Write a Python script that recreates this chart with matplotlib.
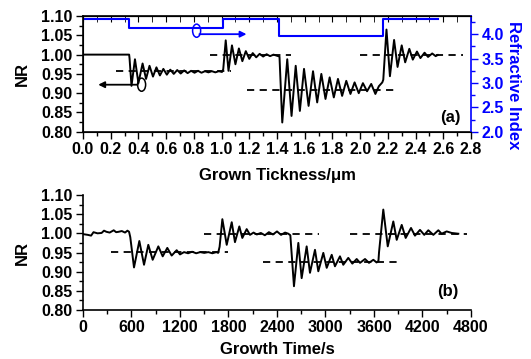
import matplotlib
matplotlib.use("Agg")
import matplotlib.pyplot as plt
from matplotlib.patches import Ellipse
from matplotlib.ticker import MultipleLocator

plt.rcParams['font.family'] = ['Liberation Sans', 'DejaVu Sans']
plt.rcParams['font.weight'] = 'bold'
plt.rcParams['axes.labelweight'] = 'bold'

# panel (a): normalised reflectance vs grown thickness (um)
thick_x = [0.0, 0.333, 0.336, 0.350, 0.375, 0.400, 0.430, 0.455, 0.480, 0.505, 0.530,
           0.555, 0.580, 0.605, 0.630, 0.655, 0.680, 0.705, 0.730, 0.755, 0.780, 0.805,
           0.830, 0.855, 0.880, 0.905, 0.930, 0.955, 0.980, 1.003,
           1.012, 1.030, 1.050, 1.075, 1.100, 1.125, 1.150, 1.175, 1.200, 1.225, 1.250,
           1.275, 1.300, 1.325, 1.350, 1.375, 1.400, 1.418,
           1.438, 1.474, 1.505, 1.535, 1.565, 1.595, 1.628, 1.660, 1.690, 1.720, 1.750,
           1.780, 1.810, 1.840, 1.870, 1.900, 1.930, 1.960, 1.990, 2.020, 2.050, 2.080,
           2.110, 2.135, 2.160,
           2.167, 2.190, 2.215, 2.245, 2.270, 2.300, 2.325, 2.355, 2.380, 2.410, 2.435,
           2.465, 2.490, 2.520, 2.545, 2.560]
thick_nr = [1.000, 1.000, 0.990, 0.919, 0.988, 0.926, 0.977, 0.937, 0.971, 0.943, 0.967,
            0.946, 0.963, 0.948, 0.961, 0.950, 0.960, 0.951, 0.959, 0.952, 0.958, 0.953,
            0.958, 0.953, 0.957, 0.954, 0.957, 0.954, 0.957, 0.955,
            0.962, 1.037, 0.958, 1.024, 0.975, 1.016, 0.983, 1.009, 0.989, 1.004, 0.993,
            1.002, 0.995, 1.001, 0.996, 1.000, 0.997, 0.995,
            0.824, 0.988, 0.841, 0.971, 0.854, 0.963, 0.867, 0.957, 0.876, 0.950, 0.885,
            0.941, 0.889, 0.937, 0.893, 0.932, 0.898, 0.928, 0.900, 0.926, 0.905, 0.924,
            0.898, 0.918, 0.928,
            0.935, 1.065, 0.944, 1.038, 0.968, 1.024, 0.980, 1.015, 0.987, 1.008, 0.991,
            1.005, 0.994, 1.003, 0.996, 0.999]

# refractive index steps (right axis)
ri_x = [0.0, 0.334, 0.334, 1.007, 1.007, 1.414, 1.414, 2.168, 2.168, 2.564]
ri_val = [4.31, 4.31, 4.125, 4.125, 4.31, 4.31, 3.97, 3.97, 4.31, 4.31]

# dashed reference levels (a): level, start, end
ref_a_level = [0.957, 0.998, 0.909, 0.998]
ref_a_start = [0.24, 0.92, 1.18, 2.00]
ref_a_end = [1.07, 1.50, 2.27, 2.74]

# panel (b): normalised reflectance vs growth time (s)
time_s = [0, 60, 100, 130, 180, 230, 260, 290, 330, 380, 410, 440, 480, 520, 550, 570,
          585, 631, 697, 755, 808, 862, 932, 986, 1043, 1097, 1159, 1200, 1250, 1300, 1350,
          1400, 1450, 1500, 1550, 1600, 1650, 1672,
          1690, 1724, 1778, 1840, 1880, 1934, 1971, 2025, 2066, 2110, 2150, 2200, 2250,
          2300, 2350, 2400, 2450, 2500, 2540, 2565,
          2610, 2664, 2705, 2767, 2808, 2870, 2911, 2973, 3015, 3077, 3117, 3179, 3220,
          3282, 3332, 3386, 3427, 3489, 3538, 3592, 3632, 3655,
          3662, 3715, 3770, 3839, 3881, 3943, 3992, 4058, 4107, 4169, 4222, 4272, 4334,
          4396, 4437, 4499, 4561, 4643]
time_nr = [0.998, 0.996, 0.994, 1.003, 1.000, 1.001, 1.007, 1.004, 1.002, 1.008, 1.003,
           1.004, 1.006, 1.002, 1.007, 1.004,
           0.990, 0.911, 0.980, 0.918, 0.970, 0.931, 0.966, 0.940, 0.962, 0.942, 0.956,
           0.945, 0.951, 0.948, 0.952, 0.948, 0.951, 0.949, 0.951, 0.948, 0.951, 0.949,
           0.965, 1.037, 0.970, 1.029, 0.977, 1.018, 0.988, 1.011, 0.996, 1.002, 0.997,
           1.001, 0.995, 1.003, 0.997, 1.005, 0.996, 1.002, 0.999, 0.995,
           0.862, 0.975, 0.883, 0.966, 0.897, 0.957, 0.901, 0.949, 0.910, 0.944, 0.914,
           0.940, 0.918, 0.936, 0.921, 0.933, 0.923, 0.933, 0.923, 0.931, 0.924, 0.928,
           0.950, 1.062, 0.966, 1.031, 0.983, 1.022, 0.988, 1.014, 0.994, 1.009, 0.996,
           1.008, 0.996, 1.008, 0.999, 1.005, 1.001, 0.999]

ref_b_level = [0.951, 0.999, 0.925, 0.999]
ref_b_start = [350, 1500, 2230, 3300]
ref_b_end = [1790, 2920, 3930, 4750]

FS = 11.5
LFS = 12


def style_nr_axis(ax):
    ax.set_ylim(0.80, 1.10)
    ax.yaxis.set_major_locator(MultipleLocator(0.05))
    ax.yaxis.set_minor_locator(MultipleLocator(0.025))
    ax.yaxis.set_major_formatter(matplotlib.ticker.FormatStrFormatter('%.2f'))
    ax.tick_params(axis='both', which='major', direction='out', length=5, width=1,
                   labelsize=FS, pad=2.5)
    ax.tick_params(axis='both', which='minor', direction='out', length=3, width=1)
    ax.set_ylabel('NR', fontsize=LFS)
    ax.yaxis.set_label_coords(-0.138, 0.5)
    for sp in ax.spines.values():
        sp.set_linewidth(1.2)


fig = plt.figure(figsize=(5.31, 3.59), dpi=100)
ax_a = fig.add_axes([0.1563, 0.633, 0.7307, 0.3223])
ax_b = fig.add_axes([0.1563, 0.1365, 0.7307, 0.3203])

# ---- panel (a)
for lev, x0, x1 in zip(ref_a_level, ref_a_start, ref_a_end):
    ax_a.plot([x0, x1], [lev, lev], color='black', lw=1.3, dashes=(4, 3), zorder=2)
ax_a.plot(thick_x, thick_nr, color='black', lw=1.4, zorder=3)
ax_a.set_xlim(0.0, 2.8)
ax_a.xaxis.set_major_locator(MultipleLocator(0.2))
ax_a.xaxis.set_minor_locator(MultipleLocator(0.1))
ax_a.xaxis.set_major_formatter(matplotlib.ticker.FormatStrFormatter('%.1f'))
style_nr_axis(ax_a)
ax_a.set_xlabel('Grown Tickness/\u03bcm', fontsize=LFS, labelpad=8)
ax_a.spines['right'].set_visible(False)

top = ax_a.secondary_xaxis('top')
top.xaxis.set_major_locator(MultipleLocator(0.2))
top.xaxis.set_minor_locator(MultipleLocator(0.1))
top.tick_params(which='both', direction='in', length=4, labeltop=False)

# black arrow + circle (NR axis)
ax_a.add_patch(Ellipse((0.423, 0.922), 0.058, 0.034, fill=False, ec='black', lw=1.1,
                       zorder=4))
ax_a.annotate('', xy=(0.11, 0.922), xytext=(0.395, 0.922),
              arrowprops=dict(arrowstyle='-|>', color='black', lw=1.3,
                              mutation_scale=9, shrinkA=0, shrinkB=0))
ax_a.text(2.65, 0.838, '(a)', fontsize=LFS, ha='center', va='center')

axr = ax_a.twinx()
axr.plot(ri_x, ri_val, color='blue', lw=1.5)
axr.set_ylim(2.0, 4.37)
axr.yaxis.set_major_locator(MultipleLocator(0.5))
axr.yaxis.set_minor_locator(MultipleLocator(0.25))
axr.yaxis.set_major_formatter(matplotlib.ticker.FormatStrFormatter('%.1f'))
axr.tick_params(axis='y', which='major', direction='out', length=5, width=1,
                colors='blue', labelsize=FS, pad=2.5)
axr.tick_params(axis='y', which='minor', direction='out', length=3, width=1,
                colors='blue')
axr.spines['right'].set_color('blue')
axr.spines['right'].set_linewidth(1.2)
axr.set_ylabel('Refractive Index', color='blue', fontsize=LFS, rotation=270)
axr.yaxis.set_label_coords(1.128, 0.4)

# blue arrow + circle (refractive index axis)
ax_a.add_patch(Ellipse((0.82, 1.062), 0.058, 0.034, fill=False, ec='blue', lw=1.1,
                       zorder=4))
ax_a.annotate('', xy=(1.18, 1.053), xytext=(0.84, 1.053),
              arrowprops=dict(arrowstyle='-|>', color='blue', lw=1.3,
                              mutation_scale=9, shrinkA=0, shrinkB=0))

# ---- panel (b)
for lev, x0, x1 in zip(ref_b_level, ref_b_start, ref_b_end):
    ax_b.plot([x0, x1], [lev, lev], color='black', lw=1.3, dashes=(4, 3), zorder=2)
ax_b.plot(time_s, time_nr, color='black', lw=1.4, zorder=3)
ax_b.set_xlim(0, 4800)
ax_b.xaxis.set_major_locator(MultipleLocator(600))
ax_b.xaxis.set_minor_locator(MultipleLocator(300))
style_nr_axis(ax_b)
ax_b.set_xlabel('Growth Time/s', fontsize=LFS, labelpad=5)
ax_b.spines['top'].set_visible(False)
ax_b.spines['right'].set_visible(False)
ax_b.text(4515, 0.847, '(b)', fontsize=LFS, ha='center', va='center')

fig.savefig('out.png', dpi=100)
